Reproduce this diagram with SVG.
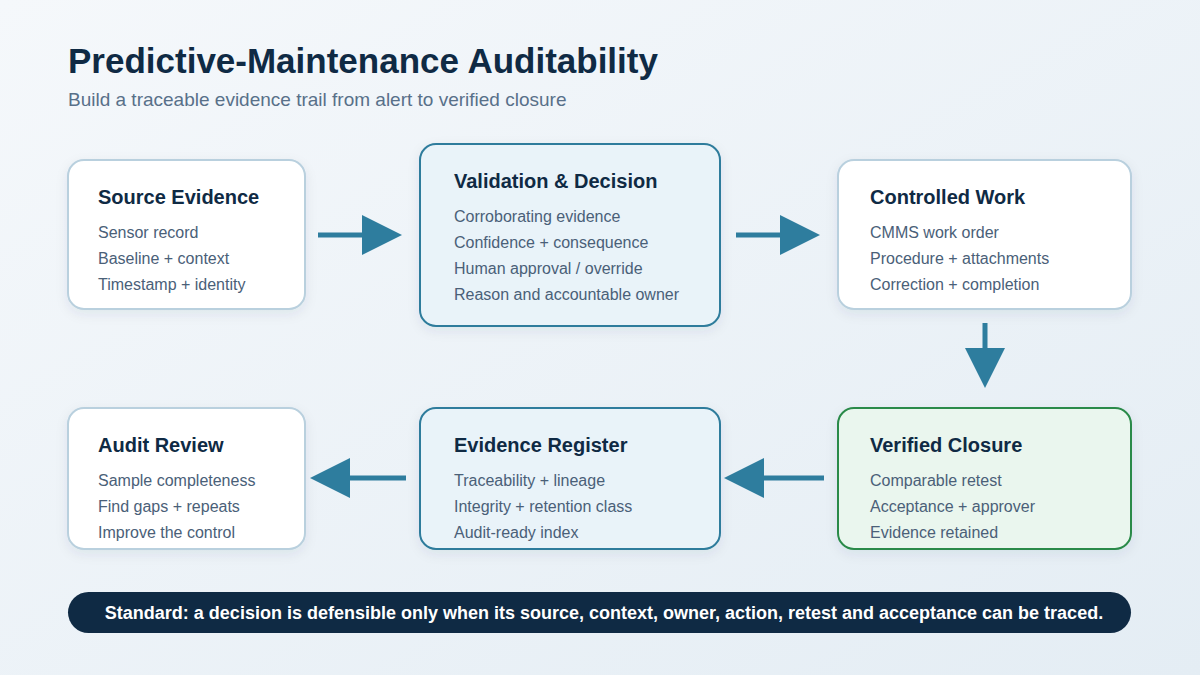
<svg xmlns="http://www.w3.org/2000/svg" width="1200" height="675" viewBox="0 0 1200 675">
<defs>
<linearGradient id="bg" x1="0" y1="0" x2="1" y2="1"><stop offset="0" stop-color="#f5f8fb"/><stop offset="1" stop-color="#e4edf4"/></linearGradient>
<filter id="sh" x="-10%" y="-10%" width="120%" height="130%"><feDropShadow dx="0" dy="4" stdDeviation="6" flood-color="#1a3550" flood-opacity="0.08"/></filter>
<style>
text{font-family:"Liberation Sans",Arial,sans-serif}
.t{font-size:20px;font-weight:bold;fill:#0f2a44}
.l{font-size:16px;fill:#4a6078}
.box{fill:#fff;stroke:#b9d0de;stroke-width:2;filter:url(#sh)}
.hl{fill:#e9f3f9;stroke:#2e7c9c;stroke-width:2;filter:url(#sh)}
.ok{fill:#eaf6ee;stroke:#2a8a48;stroke-width:2;filter:url(#sh)}
.c line{stroke:#2e7d9e;stroke-width:5}
.c polygon{fill:#2e7d9e}
</style>
</defs>
<rect width="1200" height="675" fill="url(#bg)"/>
<text x="68" y="73" style="font-size:35px;font-weight:bold;fill:#0f2a44">Predictive-Maintenance Auditability</text>
<text x="68" y="106" style="font-size:19px;fill:#587089">Build a traceable evidence trail from alert to verified closure</text>
<g id="source"><rect class="box" x="68" y="160" width="237" height="149" rx="16"/><text class="t" x="98" y="204">Source Evidence</text><text class="l" x="98" y="238">Sensor record</text><text class="l" x="98" y="264">Baseline + context</text><text class="l" x="98" y="290">Timestamp + identity</text></g>
<g id="validation"><rect class="hl" x="420" y="144" width="300" height="182" rx="16"/><text class="t" x="454" y="188">Validation &amp; Decision</text><text class="l" x="454" y="222">Corroborating evidence</text><text class="l" x="454" y="248">Confidence + consequence</text><text class="l" x="454" y="274">Human approval / override</text><text class="l" x="454" y="300">Reason and accountable owner</text></g>
<g id="work"><rect class="box" x="838" y="160" width="293" height="149" rx="16"/><text class="t" x="870" y="204">Controlled Work</text><text class="l" x="870" y="238">CMMS work order</text><text class="l" x="870" y="264">Procedure + attachments</text><text class="l" x="870" y="290">Correction + completion</text></g>
<g id="audit"><rect class="box" x="68" y="408" width="237" height="141" rx="16"/><text class="t" x="98" y="452">Audit Review</text><text class="l" x="98" y="486">Sample completeness</text><text class="l" x="98" y="512">Find gaps + repeats</text><text class="l" x="98" y="538">Improve the control</text></g>
<g id="register"><rect class="hl" x="420" y="408" width="300" height="141" rx="16"/><text class="t" x="454" y="452">Evidence Register</text><text class="l" x="454" y="486">Traceability + lineage</text><text class="l" x="454" y="512">Integrity + retention class</text><text class="l" x="454" y="538">Audit-ready index</text></g>
<g id="closure"><rect class="ok" x="838" y="408" width="293" height="141" rx="16"/><text class="t" x="870" y="452">Verified Closure</text><text class="l" x="870" y="486">Comparable retest</text><text class="l" x="870" y="512">Acceptance + approver</text><text class="l" x="870" y="538">Evidence retained</text></g>
<g class="c" id="connectors">
<line x1="318" y1="235" x2="364" y2="235"/><polygon points="362,215 402,235 362,255"/>
<line x1="736" y1="235" x2="782" y2="235"/><polygon points="780,215 820,235 780,255"/>
<line x1="985" y1="323" x2="985" y2="350"/><polygon points="965,348 1005,348 985,388"/>
<line x1="824" y1="478" x2="762" y2="478"/><polygon points="764,458 724,478 764,498"/>
<line x1="406" y1="478" x2="348" y2="478"/><polygon points="350,458 310,478 350,498"/>
</g>
<g id="footer"><rect x="68" y="592" width="1063" height="41" rx="20.5" fill="#0f2a44"/><text x="604" y="619" text-anchor="middle" style="font-size:18px;font-weight:bold;fill:#fff">Standard: a decision is defensible only when its source, context, owner, action, retest and acceptance can be traced.</text></g>
</svg>
